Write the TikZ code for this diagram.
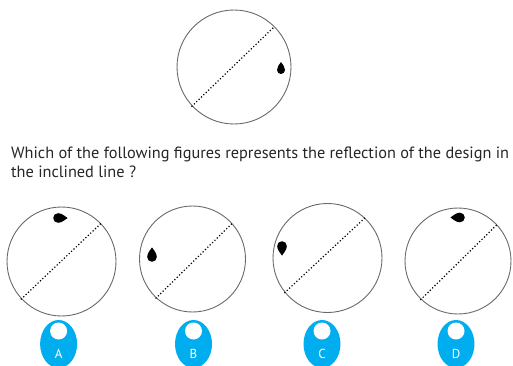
\documentclass[tikz,border=0pt]{standalone}
\usepackage{fontspec}
\setsansfont{PT Sans}
\usetikzlibrary{shapes.geometric}
\definecolor{tagblue}{RGB}{0,174,239}
\definecolor{rimgray}{RGB}{105,105,105}
\tikzset{
  tear/.pic={\fill[black] (0,8) .. controls (1.5,5.5) and (4,3.5) .. (4,0)
     arc[start angle=0, end angle=-180, radius=4]
     .. controls (-4,3.5) and (-1.5,5.5) .. (0,8) -- cycle;}
}
\begin{document}
\begin{tikzpicture}[
      x=1pt, y=1pt, font=\sffamily,
      disc/.style={draw=rimgray, line width=0.9pt, circle, inner sep=0pt},
      mirror/.style={line width=1.7pt, dash pattern=on 0pt off 3.3pt, line cap=round},
      tag/.style={fill=tagblue, ellipse, inner sep=0pt, minimum width=37pt, minimum height=48pt},
      hole/.style={fill=white, circle, inner sep=0pt, minimum size=17pt},
      question/.style={anchor=base west, inner sep=0pt, font=\sffamily\fontsize{16.3}{18}\selectfont, text=black!85}
    ]
    \useasboundingbox (0,0) rectangle (513,365);

    % original design
    \node[disc, minimum size=114pt] (top) at (234,298) {};
    \draw[mirror] (top.223) -- (top.45);
    \pic at (281,295) {tear};

    \node[question] (q1) at (11,207) {Which of the following figures represents the reflection of the design in};
    \node[question] (q2) at (11,188) {the inclined line ?};

    % answer options
    \node[disc, minimum size=109pt] (a) at (61.5,103.5) {};
    \node[disc, minimum size=106pt] (b) at (192.5,106) {};
    \node[disc, minimum size=109pt] (c) at (327.5,107) {};
    \node[disc, minimum size=106pt] (d) at (458,104) {};
    \draw[mirror] (a.223) -- (a.44);
    \draw[mirror] (b.227) -- (b.42);
    \draw[mirror] (c.219) -- (c.47);
    \draw[mirror] (d.226) -- (d.43);
    \pic[scale=1.2, rotate=-90] at (58,147) {tear};
    \pic[scale=1.2] at (152,108) {tear};
    \pic[scale=1.2, rotate=180] at (282,119) {tear};
    \pic[scale=1.2, rotate=90] at (460,147.5) {tear};

    % labels
    \foreach \x/\l in {58.6/A, 193.5/B, 322/C, 456/D} {
      \node[tag] (tag\l) at (\x,21) {};
      \node[hole] (hole\l) at (\x,34) {};
      \node[text=white, font=\sffamily\fontsize{13}{14}\selectfont] (lab\l) at (\x,11.5) {\l};
    }
  \end{tikzpicture}
\end{document}
